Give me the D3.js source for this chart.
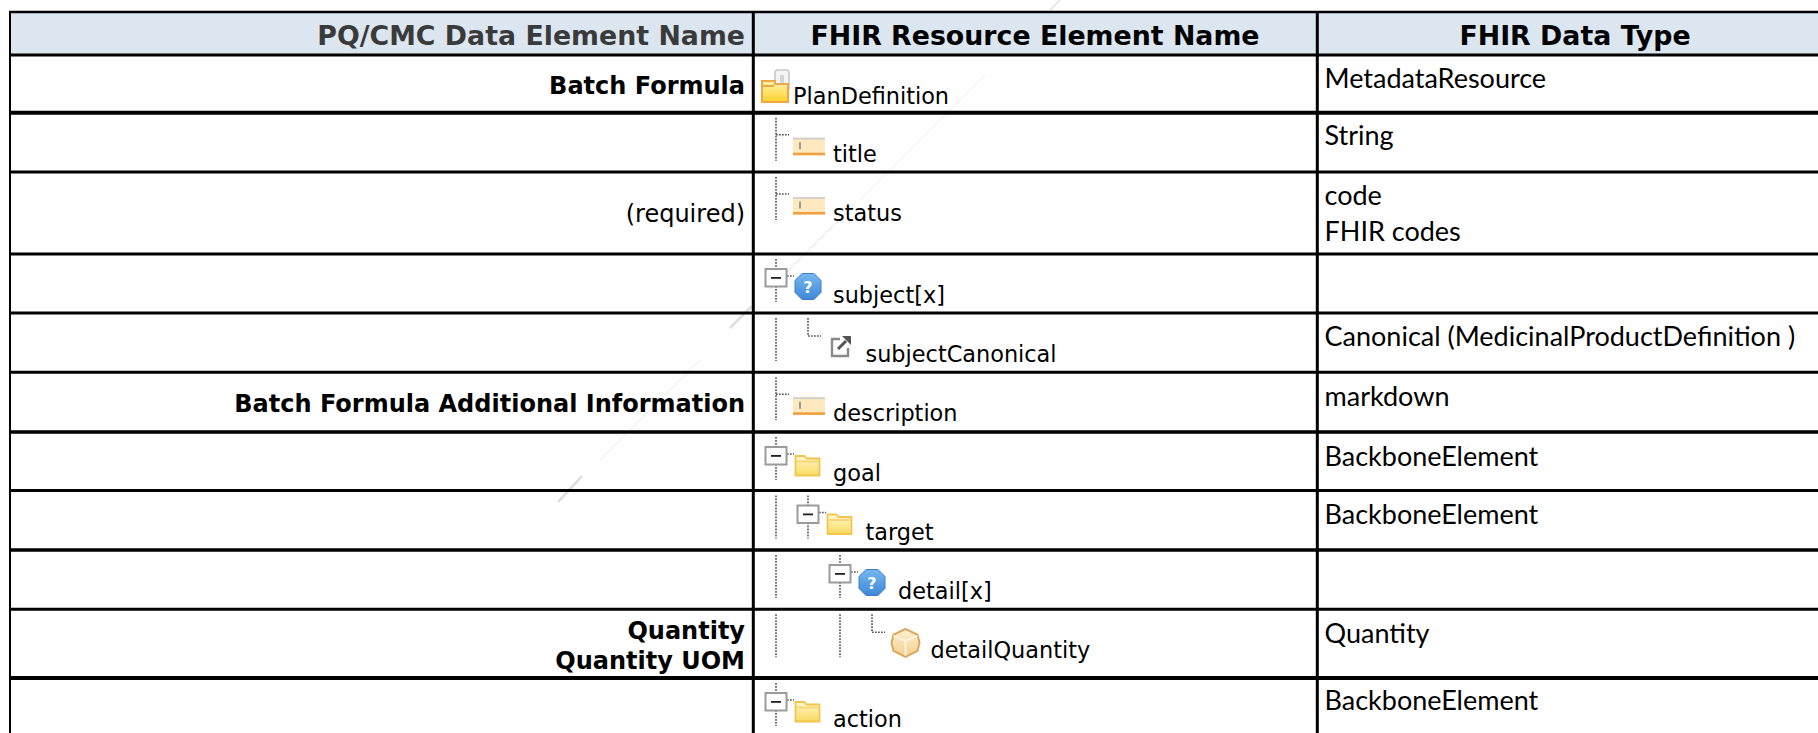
<!DOCTYPE html>
<html><head><meta charset="utf-8">
<script src="https://cdnjs.cloudflare.com/ajax/libs/d3/7.8.5/d3.min.js"></script>
<style>html,body{margin:0;padding:0;background:#fff}svg{display:block}</style>
</head><body><svg id="c" width="1818" height="733"></svg>
<script>
const headers = ["PQ/CMC Data Element Name","FHIR Resource Element Name","FHIR Data Type"];
const pqNames = [["Batch Formula"],[],["(required)"],[],[],["Batch Formula Additional Information"],[],[],[],["Quantity","Quantity UOM"],[]];
const fhirNames = ["PlanDefinition","title","status","subject[x]","subjectCanonical","description","goal","target","detail[x]","detailQuantity","action"];
const fhirTypes = [["MetadataResource"],["String"],["code","FHIR codes"],[],["Canonical (MedicinalProductDefinition )"],["markdown"],["BackboneElement"],["BackboneElement"],[],["Quantity"],["BackboneElement"]];
const treeDepths = [0,1,1,1,2,1,1,2,3,4,1];
const treeIcons = ["root","attr","attr","choice","link","attr","folder","folder","choice","cube","folder"];
const treeJoins = ["none","tee","tee","box","ell","tee","box","box","box","ell","box"];
const treeGuides = [[],[],[],[],[1],[],[],[1],[1],[1,3],[]];

const rowEdges = [55,112.7,172,254,313,372.3,432,490.5,550,609.3,678,745];
const typeOffsets = [33,32.5,33,32,33,33.7,33.5,33,32,33.5,32];
const pqOffsets = [38.5,0,50,0,0,39.5,0,0,0,30,0];
const rowIndex = d3.range(fhirNames.length);
const y = d3.scaleOrdinal().domain(rowIndex).range(rowEdges);
const guideX = d3.scaleLinear().domain([1,2]).range([776,808]);
const textX = d3.scaleLinear().domain([1,2]).range([833,865.5]);

const svg = d3.select("#c");
const sansBold = "'DejaVu Sans',Verdana,sans-serif";
const ink = "#000";

const defs = svg.append("defs");
function grad(id,stops){
  const g=defs.append("linearGradient").attr("id",id).attr("x1",0).attr("y1",0).attr("x2",0).attr("y2",1);
  stops.forEach(s=>g.append("stop").attr("offset",s[0]).attr("stop-color",s[1]));
}
grad("gFolder",[[0,"#fff7d8"],[.35,"#fdeea8"],[1,"#f9d95e"]]);
grad("gRoot",[[0,"#fff3b0"],[1,"#fdd22a"]]);
grad("gBlue",[[0,"#78b8f0"],[1,"#3f88d8"]]);
grad("gCube",[[0,"#fdf0d5"],[1,"#f4cf8e"]]);

// faint diagonal behind the table
const streak = svg.append("g").attr("fill","none").attr("stroke-linecap","butt");
const streakLines = [[1060,0,1050,10,1.2,"#dcdcdc"],[985,75,860,200,1,"#e9e9e9"],[855,204,770,289,1,"#e2e2e2"],
  [752,306,730,328,2.5,"#dedede"],[700,360,600,460,.9,"#e4e4e4"],[582,476,558,502,2.5,"#dcdcdc"]];
streakLines.forEach(s=>streak.append("line").attr("x1",s[0]).attr("y1",s[1]).attr("x2",s[2]).attr("y2",s[3])
    .attr("stroke",s[5]).attr("stroke-width",s[4]));

// header
svg.append("rect").attr("x",10).attr("y",12).attr("width",1808).attr("height",43).attr("fill","#dce6f1");
svg.selectAll("text.h").data(headers).join("text").attr("class","h")
  .attr("x",(d,i)=>i==0?745:(i==1?1035:1575)).attr("y",45)
  .attr("text-anchor",(d,i)=>i==0?"end":"middle")
  .attr("font-family",sansBold).attr("font-weight","bold").attr("font-size",26.8)
  .attr("fill",(d,i)=>i==0?"#3a3a3a":ink).text(d=>d);

// icons
function folder(g,x,t){
  const f = g.append("g").attr("transform",`translate(${x},${t})`);
  f.append("path").attr("d","M1 4V1.5H10L12 4H25V21H1Z").attr("fill","url(#gFolder)").attr("stroke","#f2c64e").attr("stroke-width",1.8);
  f.append("rect").attr("x",2).attr("y",6).attr("width",22).attr("height",2).attr("fill","#f5d778");
}
function drawIcon(g,kind,d,t){
  const gx = guideX(d);
  if(kind==="attr"){
    g.append("rect").attr("x",gx+17).attr("y",t+25).attr("width",32).attr("height",17).attr("fill","#fde9bd");
    g.append("rect").attr("x",gx+17).attr("y",t+25).attr("width",32).attr("height",1.8).attr("fill","#cfcfcf");
    g.append("rect").attr("x",gx+17).attr("y",t+40).attr("width",32).attr("height",2.6).attr("fill","#f0a040");
    g.append("rect").attr("x",gx+23).attr("y",t+29.5).attr("width",2).attr("height",7).attr("fill","#9a9a9a");
  } else if(kind==="choice"){
    const cx=gx+32, cy=t+32.5, r=13, k=6;
    g.append("path").attr("d",`M${cx-k} ${cy-r}H${cx+k}L${cx+r} ${cy-k}V${cy+k}L${cx+k} ${cy+r}H${cx-k}L${cx-r} ${cy+k}V${cy-k}Z`)
      .attr("fill","url(#gBlue)").attr("stroke","#3f7fc0").attr("stroke-width",1);
    g.append("text").attr("x",cx).attr("y",cy+6).attr("text-anchor","middle").attr("font-family",sansBold).attr("font-weight","bold").attr("font-size",16).attr("fill","#fff").text("?");
  } else if(kind==="folder"){
    folder(g,gx+18.5,t+22.5);
  } else if(kind==="link"){
    const x=gx+23,yy=t+23;
    g.append("path").attr("d",`M${x+9} ${yy+3}H${x+1}V${yy+20}H${x+17}V${yy+12}`).attr("fill","none").attr("stroke","#8a8a8a").attr("stroke-width",2.4);
    g.append("path").attr("d",`M${x+7} ${yy+13}L${x+15} ${yy+5}`).attr("stroke","#555").attr("stroke-width",3);
    g.append("path").attr("d",`M${x+11} ${yy}H${x+20}V${yy+9}Z`).attr("fill","#555");
  } else if(kind==="cube"){
    const cx=gx+33.5, cy=t+33.5;
    g.append("path").attr("d",`M${cx} ${cy-14}L${cx+12} ${cy-8}L${cx+14} ${cy}L${cx+12} ${cy+8}L${cx} ${cy+14}L${cx-12} ${cy+8}L${cx-14} ${cy}L${cx-12} ${cy-8}Z`)
      .attr("fill","url(#gCube)").attr("stroke","#dba85a").attr("stroke-width",2);
    g.append("path").attr("d",`M${cx-12} ${cy-7}L${cx} ${cy-2}L${cx+12} ${cy-7}M${cx} ${cy-2}V${cy+13}`).attr("fill","none").attr("stroke","#fff3dc").attr("stroke-width",1.8);
  } else if(kind==="root"){
    const x=761,yy=t+15;
    g.append("path").attr("d",`M${x+14} ${yy+3}q0 -3 3 -3h8q3 0 3 3v16h-14z`).attr("fill","#f4f4f4").attr("stroke","#c8c8c8").attr("stroke-width",1.6);
    g.append("rect").attr("x",x+19).attr("y",yy+5).attr("width",4).attr("height",9).attr("fill","#d4d4d4");
    g.append("path").attr("d",`M${x+1} ${yy+11}H${x+14}V${yy+14}H${x+27}V${yy+32}H${x+1}Z`).attr("fill","url(#gRoot)").attr("stroke","#eea84a").attr("stroke-width",2);
    g.append("rect").attr("x",x+2).attr("y",yy+15).attr("width",11).attr("height",2).attr("fill","#e8a840");
  }
}
const dot = (g,x1,y1,x2,y2)=>g.append("line").attr("x1",x1).attr("y1",y1).attr("x2",x2).attr("y2",y2)
   .attr("stroke","#555").attr("stroke-width",1.6).attr("stroke-dasharray","1.7 1.3");
function drawJoin(g,kind,d,t){
  if(kind==="none") return;
  const gx=guideX(d);
  if(kind==="tee"){ dot(g,gx,t+5,gx,t+48); dot(g,gx,t+22,gx+13,t+22); }
  if(kind==="ell"){ dot(g,gx,t+5,gx,t+23); dot(g,gx,t+23,gx+13,t+23); }
  if(kind==="box"){
    dot(g,gx,t+5,gx,t+48); dot(g,gx+11,t+22,gx+18,t+22);
    g.append("rect").attr("x",gx-10.5).attr("y",t+15).attr("width",21).attr("height",17.5).attr("fill","#fff").attr("stroke","#9b9b9b").attr("stroke-width",2);
    g.append("rect").attr("x",gx-5).attr("y",t+23).attr("width",10).attr("height",1.8).attr("fill","#222");
  }
}

const rows = svg.selectAll("g.row").data(rowIndex).join("g").attr("class","row");
rows.each(function(i){
  const g=d3.select(this), t=y(i), d=treeDepths[i];
  treeGuides[i].forEach(a=>dot(g,guideX(a),t+5,guideX(a),t+48));
  drawJoin(g,treeJoins[i],d,t);
  drawIcon(g,treeIcons[i],d,t);
  g.append("text").attr("x",d===0?793:textX(d)).attr("y",t+49)
    .attr("font-family",sansBold).attr("font-size",22.4).attr("fill",ink).text(fhirNames[i]);
  pqNames[i].forEach((s,k)=>{
    const bold = s!=="(required)";
    g.append("text").attr("x",745).attr("text-anchor","end")
      .attr("y", t + pqOffsets[i] + k*30)
      .attr("font-family",sansBold).attr("font-size",24).attr("font-weight",bold?"bold":"normal").attr("fill",ink).text(s);
  });
  fhirTypes[i].forEach((s,k)=>{
    g.append("text").attr("x",1324.5).attr("y",t+typeOffsets[i]+k*36)
      .attr("font-family","Lato,'Open Sans',sans-serif").attr("font-size",27).attr("fill",ink).text(s);
  });
});

// grid
const rule=(x1,y1,x2,y2,w)=>svg.append("line").attr("x1",x1).attr("y1",y1).attr("x2",x2).attr("y2",y2).attr("stroke","#000").attr("stroke-width",w);
rule(9,12,1818,12,2.5);
rule(10,11,10,733,2);
rule(753.3,11,753.3,733,3);
rule(1317.3,11,1317.3,733,3);
const lineWidths=[3,4,3,3,3,3,3.3,3,3.3,3,4];
rowIndex.forEach(i=>rule(10,y(i),1818,y(i),lineWidths[i]));
</script></body></html>
